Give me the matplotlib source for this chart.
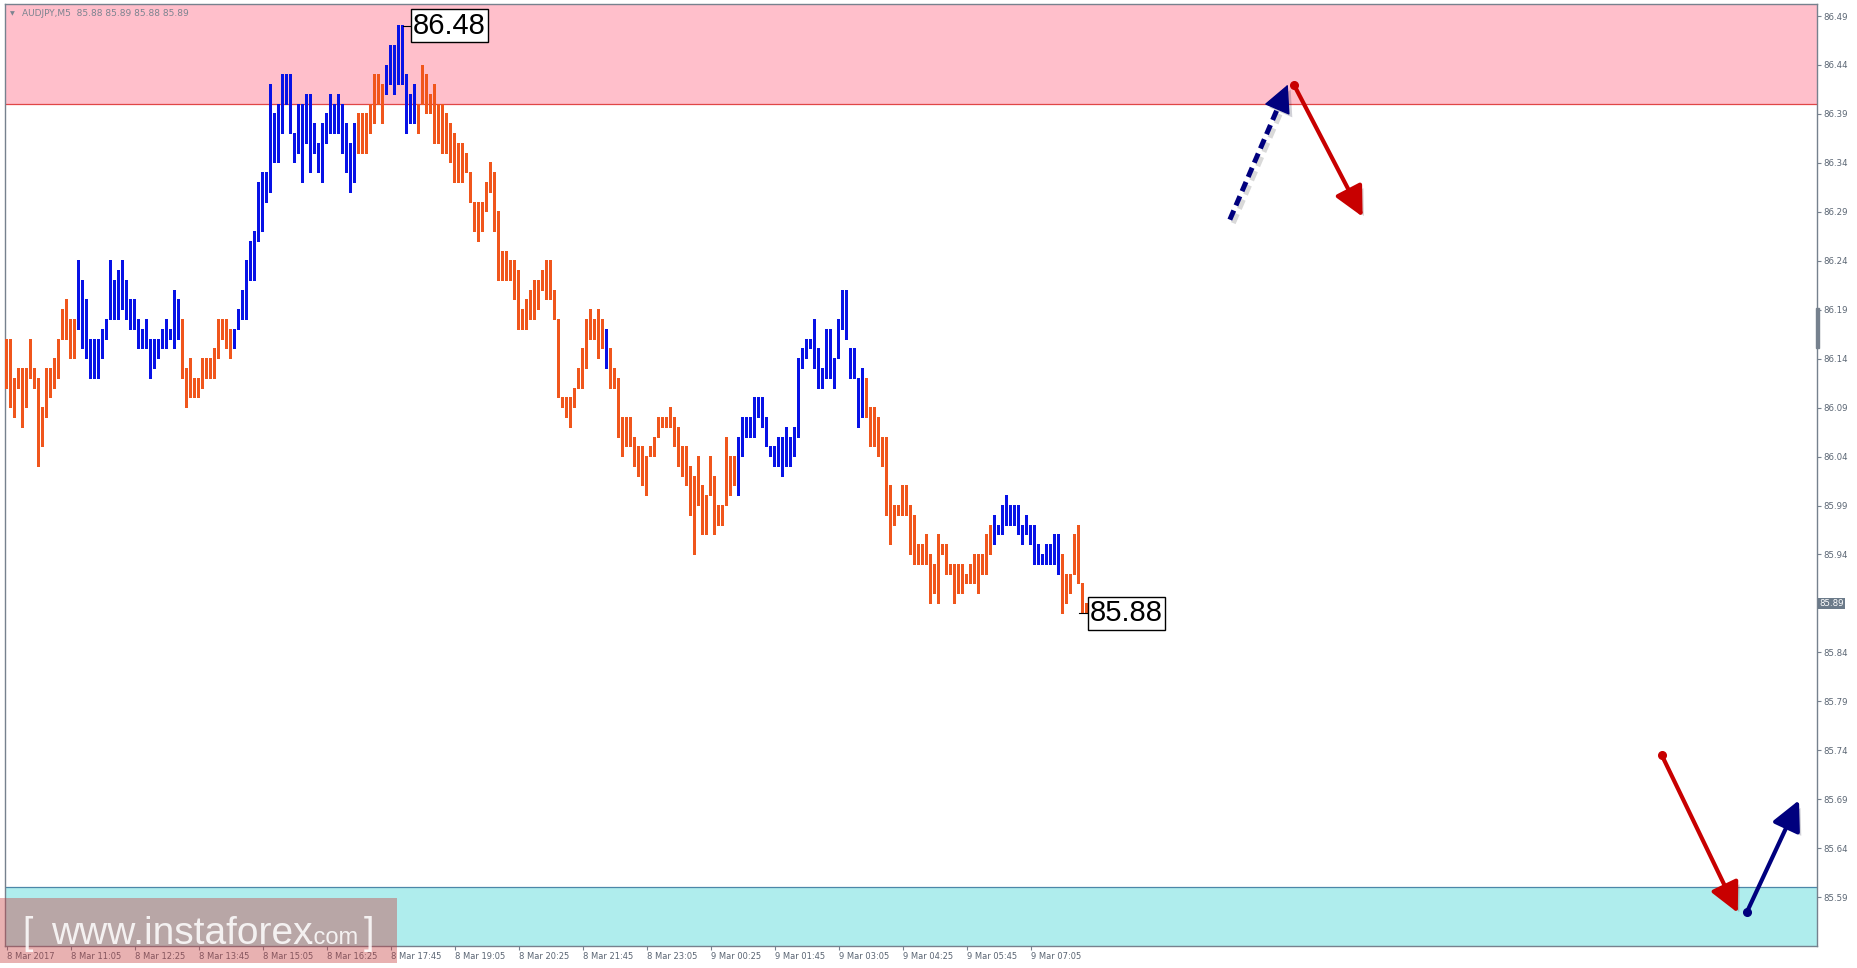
import numpy as np
import matplotlib
matplotlib.use('Agg')
import matplotlib.pyplot as plt
import matplotlib.patheffects as pe
from matplotlib.patches import FancyArrowPatch, Rectangle

# AUDJPY M5 bars (high / low)
highs = [
86.16,86.16,86.12,86.13,86.13,86.13,86.16,86.13,86.12,86.09,
86.13,86.13,86.14,86.16,86.19,86.20,86.18,86.18,86.24,86.22,
86.20,86.16,86.16,86.16,86.17,86.18,86.24,86.22,86.23,86.24,
86.22,86.20,86.20,86.18,86.17,86.18,86.16,86.16,86.16,86.17,
86.18,86.17,86.21,86.20,86.18,86.13,86.14,86.12,86.12,86.14,
86.14,86.14,86.15,86.18,86.18,86.18,86.17,86.17,86.19,86.21,
86.24,86.26,86.27,86.32,86.33,86.33,86.42,86.39,86.40,86.43,
86.43,86.43,86.37,86.40,86.40,86.41,86.41,86.38,86.36,86.38,
86.39,86.41,86.40,86.41,86.40,86.38,86.36,86.38,86.39,86.39,
86.39,86.40,86.43,86.43,86.42,86.44,86.46,86.46,86.48,86.48,
86.43,86.41,86.42,86.40,86.44,86.43,86.41,86.42,86.40,86.40,
86.39,86.38,86.37,86.36,86.36,86.35,86.33,86.30,86.30,86.30,
86.32,86.34,86.33,86.29,86.25,86.25,86.24,86.24,86.23,86.19,
86.20,86.21,86.22,86.22,86.23,86.24,86.24,86.21,86.18,86.10,
86.10,86.10,86.11,86.13,86.15,86.18,86.19,86.18,86.19,86.18,
86.17,86.15,86.13,86.12,86.08,86.08,86.08,86.06,86.05,86.05,
86.04,86.05,86.06,86.08,86.08,86.08,86.09,86.08,86.07,86.05,
86.05,86.03,86.02,86.04,86.01,86.00,86.04,86.02,85.99,85.99,
86.06,86.04,86.04,86.06,86.08,86.08,86.08,86.10,86.10,86.10,
86.08,86.05,86.05,86.06,86.06,86.07,86.06,86.07,86.14,86.15,
86.16,86.16,86.18,86.15,86.13,86.17,86.17,86.14,86.18,86.21,
86.21,86.15,86.15,86.12,86.13,86.12,86.09,86.09,86.08,86.06,
86.06,86.01,85.99,85.99,86.01,86.01,85.99,85.98,85.95,85.95,
85.96,85.94,85.93,85.96,85.95,85.95,85.93,85.93,85.93,85.93,
85.92,85.93,85.94,85.94,85.94,85.96,85.97,85.98,85.97,85.99,
86.00,85.99,85.99,85.99,85.97,85.98,85.97,85.97,85.95,85.94,
85.95,85.95,85.96,85.96,85.94,85.92,85.92,85.96,85.97,85.91,
85.89]
lows = [
86.11,86.09,86.08,86.11,86.07,86.09,86.12,86.11,86.03,86.05,
86.08,86.10,86.11,86.12,86.16,86.16,86.14,86.14,86.17,86.15,
86.14,86.12,86.12,86.12,86.14,86.16,86.18,86.18,86.18,86.19,
86.18,86.17,86.17,86.15,86.15,86.15,86.12,86.13,86.14,86.15,
86.15,86.16,86.15,86.16,86.12,86.09,86.10,86.10,86.10,86.11,
86.12,86.12,86.12,86.14,86.16,86.15,86.14,86.15,86.17,86.18,
86.18,86.22,86.22,86.26,86.27,86.30,86.31,86.34,86.34,86.37,
86.40,86.37,86.34,86.35,86.32,86.36,86.33,86.35,86.33,86.32,
86.36,86.37,86.37,86.37,86.35,86.33,86.31,86.32,86.35,86.35,
86.35,86.37,86.38,86.40,86.38,86.41,86.42,86.41,86.42,86.42,
86.37,86.38,86.38,86.37,86.40,86.39,86.39,86.36,86.36,86.35,
86.35,86.34,86.32,86.32,86.32,86.33,86.30,86.27,86.26,86.27,
86.29,86.31,86.27,86.22,86.22,86.22,86.22,86.20,86.17,86.17,
86.17,86.18,86.18,86.19,86.21,86.20,86.20,86.18,86.10,86.09,
86.08,86.07,86.09,86.11,86.11,86.13,86.16,86.16,86.14,86.15,
86.13,86.11,86.11,86.06,86.04,86.05,86.05,86.03,86.02,86.01,
86.00,86.04,86.04,86.06,86.07,86.07,86.07,86.05,86.03,86.02,
86.01,85.98,85.94,85.99,85.96,85.96,86.00,85.96,85.97,85.97,
85.99,86.00,86.01,86.00,86.04,86.06,86.06,86.06,86.08,86.07,
86.05,86.04,86.03,86.03,86.02,86.03,86.03,86.04,86.06,86.13,
86.14,86.15,86.13,86.11,86.11,86.12,86.12,86.11,86.14,86.17,
86.16,86.12,86.12,86.07,86.08,86.08,86.05,86.05,86.04,86.03,
85.98,85.95,85.97,85.98,85.98,85.98,85.94,85.93,85.93,85.93,
85.93,85.89,85.90,85.89,85.94,85.92,85.92,85.89,85.90,85.90,
85.91,85.91,85.91,85.90,85.92,85.92,85.94,85.95,85.96,85.96,
85.97,85.97,85.97,85.96,85.95,85.96,85.95,85.93,85.93,85.93,
85.93,85.93,85.93,85.92,85.88,85.89,85.90,85.92,85.91,85.88,
85.88]

# zigzag wave colouring: (length in bars, direction)
wave_len = [18, 26, 13, 31, 7, 8, 47, 1, 32, 32, 32, 17, 7]
wave_dir = ['d', 'u', 'd', 'u', 'd', 'u', 'd', 'u', 'd', 'u', 'd', 'u', 'd']

time_labels = ['8 Mar 2017', '8 Mar 11:05', '8 Mar 12:25', '8 Mar 13:45', '8 Mar 15:05',
               '8 Mar 16:25', '8 Mar 17:45', '8 Mar 19:05', '8 Mar 20:25', '8 Mar 21:45',
               '8 Mar 23:05', '9 Mar 00:25', '9 Mar 01:45', '9 Mar 03:05', '9 Mar 04:25',
               '9 Mar 05:45', '9 Mar 07:05']
bars_per_label = 16
price_ticks = [86.49, 86.44, 86.39, 86.34, 86.29, 86.24, 86.19, 86.14, 86.09, 86.04,
               85.99, 85.94, 85.89, 85.84, 85.79, 85.74, 85.69, 85.64, 85.59]
header_ohlc = [85.88, 85.89, 85.88, 85.89]
bid = 85.89

resist_zone = 86.40   # pink zone bottom
support_zone = 85.60  # cyan zone top

# forecast arrows (bar index, price)
up_dash_x = [305.8, 320.3]; up_dash_y = [86.282, 86.42]
down_top_x = [321.8, 339.0]; down_top_y = [86.42, 86.285]
down_low_x = [413.8, 432.8]; down_low_y = [85.735, 85.574]
up_low_x = [435.1, 448.1]; up_low_y = [85.575, 85.689]

ORANGE = '#F0561C'
BLUE = '#0712E6'
RED = '#C80000'
NAVY = '#00007E'
GRID = '#76818e'

W, H = 1858, 968
fig = plt.figure(figsize=(W / 100, H / 100), dpi=100)
ax = fig.add_axes([5 / W, 22 / H, 1812 / W, 942 / H])

x = np.arange(len(highs))
cols = []
for n, d in zip(wave_len, wave_dir):
    cols += [BLUE if d == 'u' else ORANGE] * n
hi = np.array(highs); lo = np.array(lows)
ax.bar(x, hi - lo + 0.001, bottom=lo - 0.0005, width=0.7, color=cols, linewidth=0, zorder=3)

ax.set_xlim(-0.425, 452.6)
ax.set_ylim(85.5401, 86.5023)

# zones
ax.axhspan(resist_zone, 87, color='#FFBFCB', zorder=0, lw=0)
ax.axhline(resist_zone, color='#E04646', lw=0.9, zorder=1)
ax.axhspan(84, support_zone, color='#AFEDED', zorder=0, lw=0)
ax.axhline(support_zone, color='#4C87A8', lw=0.9, zorder=1)

# axes styling
for s in ax.spines.values():
    s.set_color(GRID)
    s.set_linewidth(1)
ax.yaxis.tick_right()
ax.set_yticks(price_ticks)
# the bid box sits on top of its own tick label
ax.set_yticklabels(['' if abs(p - bid) < 1e-9 else f'{p:.2f}' for p in price_ticks])
ax.tick_params(axis='y', length=3, width=0.8, color=GRID, labelcolor='#5a6573', labelsize=6.2, pad=1.5)
ax.set_xticks(np.arange(len(time_labels)) * bars_per_label)
ax.set_xticklabels(time_labels)
ax.tick_params(axis='x', length=3, width=0.8, color=GRID, labelcolor='#5a6573', labelsize=6, pad=1.5)
plt.setp(ax.get_xticklabels(), ha='left')

# price labels at the extremes
peak_i = int(np.argmax(hi)) + 1
ax.plot([peak_i, 101.6], [hi.max(), hi.max()], color='black', lw=0.8, zorder=4)
ax.text(101.6, hi.max(), f'{hi.max():.2f}', ha='left', va='center', fontsize=21,
        family='Liberation Sans', zorder=5,
        bbox=dict(fc='white', ec='black', lw=1, boxstyle='square,pad=0.08'))
last_i = len(lo) - 1
ax.plot([last_i - 2, 270.8], [lo[-1], lo[-1]], color='black', lw=0.8, zorder=4)
ax.text(270.8, lo[-1], f'{lo[-1]:.2f}', ha='left', va='center', fontsize=21,
        family='Liberation Sans', zorder=5,
        bbox=dict(fc='white', ec='black', lw=1, boxstyle='square,pad=0.08'))

# bid label on the price scale
ax.annotate(f'{bid:.2f}', xy=(1, bid), xycoords=('axes fraction', 'data'), xytext=(1.5, 0),
            textcoords='offset points', ha='left', va='center', fontsize=6.2, color='white',
            bbox=dict(fc='#6b7a89', ec='none', boxstyle='square,pad=0.15'), annotation_clip=False)

# forecast arrows
shadow_l = [pe.SimpleLineShadow(offset=(2.5, -2.5), alpha=0.15), pe.Normal()]
shadow_p = [pe.SimplePatchShadow(offset=(2.5, -2.5), alpha=0.18), pe.Normal()]
head = '-|>,head_length=18,head_width=9'

def arrow(xs, ys, color, dashed=False, dot=True):
    if dashed:
        fx = xs[0] + (xs[1] - xs[0]) * 0.85
        fy = ys[0] + (ys[1] - ys[0]) * 0.85
        ax.plot([xs[0], fx], [ys[0], fy], color=color, lw=3.6, ls=(0, (2.0, 1.1)),
                solid_capstyle='butt', dash_capstyle='butt', zorder=6, path_effects=shadow_l)
        a = FancyArrowPatch((fx, fy), (xs[1], ys[1]), arrowstyle=head,
                            mutation_scale=1, lw=1, color=color, shrinkA=0, shrinkB=0, zorder=7,
                            path_effects=shadow_p)
    else:
        a = FancyArrowPatch((xs[0], ys[0]), (xs[1], ys[1]), arrowstyle=head,
                            mutation_scale=1, lw=3, color=color, shrinkA=0, shrinkB=0, zorder=7,
                            path_effects=shadow_p)
    ax.add_patch(a)
    if dot:
        ax.plot(xs[0], ys[0], 'o', color=color, ms=5.5, zorder=8)

arrow(up_dash_x, up_dash_y, NAVY, dashed=True, dot=False)
arrow(down_top_x, down_top_y, RED)
arrow(down_low_x, down_low_y, RED)
arrow(up_low_x, up_low_y, NAVY)

# header
fig.text(10 / W, 1 - 14 / H, '▼', fontsize=4.5, color='#7c8490', va='center')
fig.text(22 / W, 1 - 14 / H, 'AUDJPY,M5  ' + ' '.join(f'{v:.2f}' for v in header_ohlc),
         fontsize=6.5, color='#7c8490', va='center')

# scroll marker on the price scale
fig.add_artist(Rectangle((1816 / W, 1 - 348 / H), 3 / W, 40 / H, color='#76818e',
                         transform=fig.transFigure))

# watermark
fig.add_artist(Rectangle((0, 1 - 963 / H), 397 / W, 65 / H, facecolor=(0.78, 0.24, 0.24),
                         alpha=0.4, lw=0, transform=fig.transFigure, zorder=10))
wm = dict(color='white', alpha=0.85, family='Liberation Sans', va='baseline', zorder=11)
fig.text(22 / W, 1 - 944 / H, '[', fontsize=27, **wm)
fig.text(51 / W, 1 - 944 / H, 'www.instaforex', fontsize=28, **wm)
fig.text(308 / W, 1 - 944 / H, '.com', fontsize=17, **wm)
fig.text(364 / W, 1 - 944 / H, ']', fontsize=27, **wm)

fig.savefig('out.png', dpi=100)
